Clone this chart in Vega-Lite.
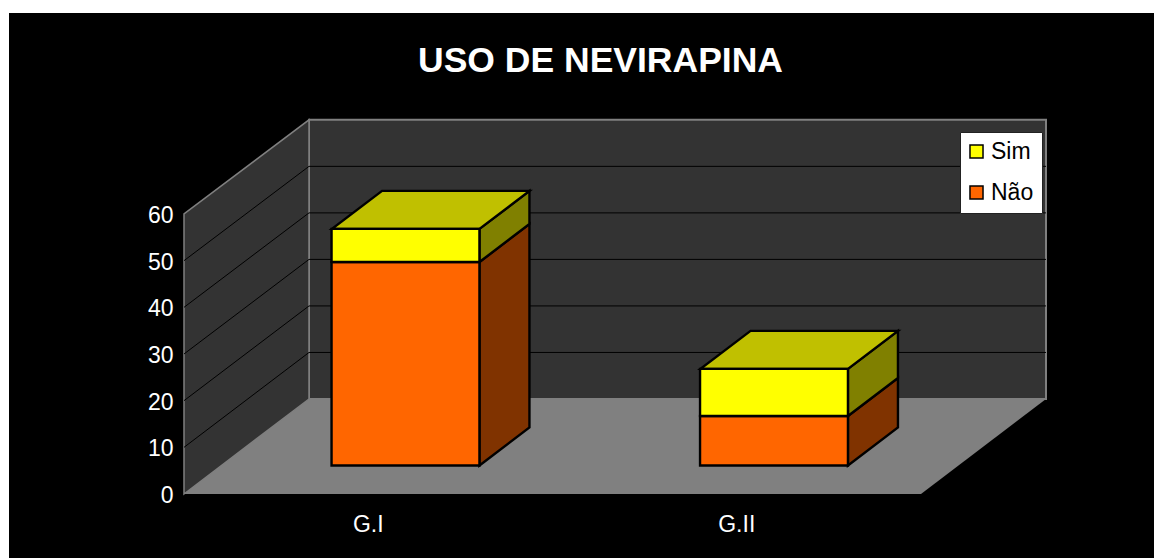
{
"$schema":"https://vega.github.io/schema/vega-lite/v6.json",
"width":1145,"height":545,
"padding":{"left":9,"top":13,"right":0,"bottom":0},
"autosize":{"type":"none"},
"background":"white",
"view":{"fill":"black","stroke":null},
"title":{"text":"USO DE NEVIRAPINA","font":"Liberation Sans","fontSize":35.5,"fontWeight":"bold","color":"white","anchor":"middle","frame":"group","baseline":"alphabetic","offset":-94,"dx":19},
"datasets":{
 "bars":[
  {"group":"G.I","series":"Não","value":43.6},
  {"group":"G.I","series":"Sim","value":7.1},
  {"group":"G.II","series":"Não","value":10.6},
  {"group":"G.II","series":"Sim","value":10.1}],
 "grid":[{"v":10},{"v":20},{"v":30},{"v":40},{"v":50}],
 "wall":[{"from":0,"to":60}]
},
"encoding":{
 "x":{"field":"px","type":"quantitative","scale":{"domain":[9,1154],"nice":false,"zero":false},"axis":null},
 "y":{"field":"py","type":"quantitative","scale":{"domain":[-13.714,103.07],"nice":false,"zero":false},
  "axis":{"title":null,"values":[0,10,20,30,40,50,60],"offset":-175,"domain":false,"ticks":false,"grid":false,"labelPadding":11,"labelOffset":1.5,"labelFont":"Liberation Sans","labelFontSize":23,"labelColor":"white","zindex":1}}
},
"layer":[
 {"data":{"name":"wall"},
  "transform":[{"calculate":"[0,1]","as":"k"},{"flatten":["k"]},
   {"calculate":"184+737*datum.k+125","as":"px"},
   {"calculate":"datum.from*0.997+20.36","as":"py"},
   {"calculate":"datum.to*0.997+20.36","as":"py2"}],
  "mark":{"type":"area","orient":"vertical","fill":"#333333","stroke":"#808080","strokeWidth":2},
  "encoding":{"y2":{"field":"py2"}}},
 {"data":{"name":"wall"},
  "transform":[{"calculate":"[0,1]","as":"k"},{"flatten":["k"]},
   {"calculate":"184+125*datum.k","as":"px"},
   {"calculate":"datum.from+20.36*datum.k","as":"py"},
   {"calculate":"datum.to*(1-0.003*datum.k)+20.36*datum.k","as":"py2"}],
  "mark":{"type":"area","orient":"vertical","fill":"#333333","stroke":"#808080","strokeWidth":1.5},
  "encoding":{"y2":{"field":"py2"}}},
 {"data":{"name":"grid"},
  "transform":[{"calculate":"[0,1,2]","as":"k"},{"flatten":["k"]},
   {"calculate":"datum.k==0?184:datum.k==1?309:1046","as":"px"},
   {"calculate":"datum.k==0?datum.v:datum.v*0.997+20.36","as":"py"}],
  "mark":{"type":"line","color":"black","strokeWidth":1},
  "encoding":{"detail":{"field":"v"}}},
 {"data":{"name":"wall"},
  "transform":[{"calculate":"[0,1,2,3]","as":"k"},{"flatten":["k"]},
   {"calculate":"datum.k==0?184:datum.k==1?309:datum.k==2?921:1046","as":"px"},
   {"calculate":"datum.k<3?0:20.36","as":"py"},
   {"calculate":"datum.k==0?0:20.36","as":"py2"}],
  "mark":{"type":"area","orient":"vertical","fill":"#808080"},
  "encoding":{"y2":{"field":"py2"}}},
 {"data":{"name":"bars"},
  "transform":[{"stack":"value","groupby":["group"],"sort":[{"field":"series","order":"ascending"}],"as":["v0","v1"]},
   {"calculate":"datum.group=='G.I'?0.25:0.75","as":"c"},
   {"calculate":"datum.group+datum.series","as":"key"},
   {"calculate":"[0,1]","as":"k"},{"flatten":["k"]},
   {"calculate":"0.3+0.4*datum.k","as":"d"},
   {"calculate":"184+737*(datum.c+0.1)+125*datum.d","as":"px"},
   {"calculate":"datum.v0+20.36*datum.d","as":"py"},
   {"calculate":"datum.v1+20.36*datum.d","as":"py2"}],
  "mark":{"type":"area","orient":"vertical","stroke":"black","strokeWidth":2.4,"strokeJoin":"miter"},
  "encoding":{"y2":{"field":"py2"},"detail":{"field":"key"},
   "fill":{"condition":{"test":"datum.series=='Sim'","value":"#808000"},"value":"#803300"}}},
 {"data":{"name":"bars"},
  "transform":[{"stack":"value","groupby":["group"],"sort":[{"field":"series","order":"ascending"}],"as":["v0","v1"]},
   {"filter":"datum.series=='Sim'"},
   {"calculate":"datum.group=='G.I'?0.25:0.75","as":"c"},
   {"calculate":"[0,1,2,3]","as":"k"},{"flatten":["k"]},
   {"calculate":"184+737*(datum.c+(datum.k<2?-0.1:0.1))+125*((datum.k==1||datum.k==3)?0.7:0.3)","as":"px"},
   {"calculate":"datum.v1+20.36*(datum.k==3?0.7:0.3)","as":"py"},
   {"calculate":"datum.v1+20.36*(datum.k==0?0.3:0.7)","as":"py2"}],
  "mark":{"type":"area","orient":"vertical","fill":"#C0C000","stroke":"black","strokeWidth":2.4,"strokeJoin":"miter"},
  "encoding":{"y2":{"field":"py2"},"detail":{"field":"group"}}},
 {"data":{"name":"bars"},
  "transform":[{"stack":"value","groupby":["group"],"sort":[{"field":"series","order":"ascending"}],"as":["v0","v1"]},
   {"calculate":"datum.group=='G.I'?0.25:0.75","as":"c"},
   {"calculate":"184+737*(datum.c-0.1)+37","as":"px"},
   {"calculate":"184+737*(datum.c+0.1)+37.5","as":"px2"},
   {"calculate":"datum.v0+6.108","as":"py"},
   {"calculate":"datum.v1+6.108","as":"py2"}],
  "mark":{"type":"rect","stroke":"black","strokeWidth":2.4},
  "encoding":{"x2":{"field":"px2"},"y2":{"field":"py2"},
   "color":{"field":"series","type":"nominal","scale":{"domain":["Sim","Não"],"range":["#FFFF00","#FF6600"]},
    "legend":{"title":null,"orient":"none","legendX":951,"legendY":119,"fillColor":"white","strokeColor":"#222222","padding":8,"symbolType":"square","symbolSize":170,"symbolStrokeColor":"black","symbolStrokeWidth":1.5,"symbolOpacity":1,"symbolOffset":-3,"labelFont":"Liberation Sans","labelFontSize":23,"labelColor":"black","labelOffset":3,"rowPadding":17,"zindex":2}}}},
 {"data":{"name":"bars"},
  "transform":[{"filter":"datum.series=='Sim'"},
   {"calculate":"184+737*(datum.group=='G.I'?0.25:0.75)","as":"px"},
   {"calculate":"-6.6","as":"py"}],
  "mark":{"type":"text","font":"Liberation Sans","fontSize":23,"color":"white","align":"center","baseline":"middle"},
  "encoding":{"text":{"field":"group"}}}
]
}
